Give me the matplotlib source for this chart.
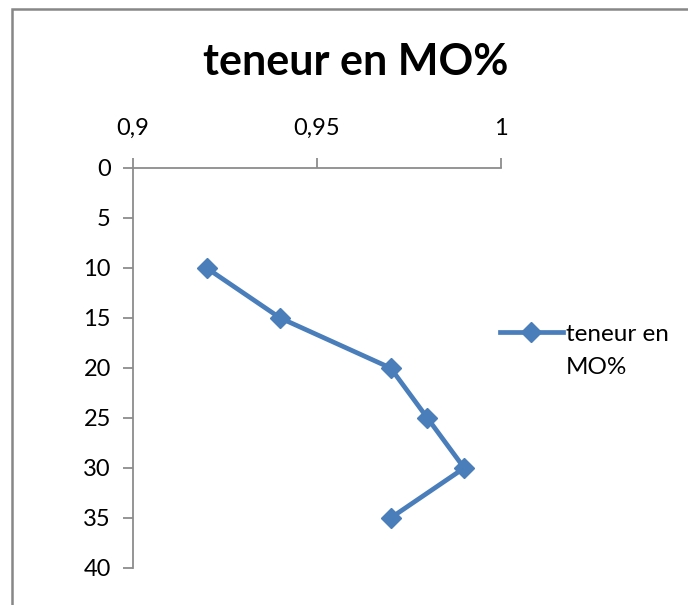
import matplotlib
matplotlib.use("Agg")
import matplotlib.pyplot as plt
from matplotlib.patches import Rectangle
from matplotlib.ticker import FuncFormatter

# data
teneur = [0.92, 0.94, 0.97, 0.98, 0.99, 0.97]
profondeur = [10, 15, 20, 25, 30, 35]
x_ticks = [0.9, 0.95, 1.0]
y_ticks = [0, 5, 10, 15, 20, 25, 30, 35, 40]
serie = "teneur en MO%"

plt.rcParams['font.family'] = ['Lato', 'DejaVu Sans']

fig = plt.figure(figsize=(6.88, 6.05), dpi=100)
ax = fig.add_axes([133/688, 1-568/605, 368/688, 400/605])

blue = '#4A7EBB'
line, = ax.plot(teneur, profondeur, color=blue, lw=3.4, marker='D', ms=10.5,
                markeredgecolor=blue, markerfacecolor=blue)

ax.set_xlim(0.9, 1.0)
ax.set_ylim(40, 0)
ax.set_xticks(x_ticks)
ax.set_yticks(y_ticks)
ax.xaxis.tick_top()
ax.xaxis.set_major_formatter(FuncFormatter(lambda v, p: ('%g' % v).replace('.', ',')))

grey = '#8C8C8C'
for s in ['right', 'bottom']:
    ax.spines[s].set_visible(False)
for s in ['top', 'left']:
    ax.spines[s].set_color(grey)
    ax.spines[s].set_linewidth(1.3)
ax.tick_params(axis='both', direction='out', length=7, width=1.3, color=grey,
               labelsize=17, pad=9)
ax.tick_params(axis='x', pad=14)

fig.text(356/688, 1-62/605, serie, ha='center', va='center', fontsize=31,
         fontweight='bold')

# legende : la ligne est alignee sur la premiere ligne du texte (comme Excel)
mots = serie.split(' ')
leg = fig.legend([line], [' '.join(mots[:2])], loc='center left',
                 bbox_to_anchor=(478/688, 1-334/605), frameon=False, fontsize=17.5,
                 handlelength=2.6, handletextpad=0.1)
fig.canvas.draw()
bb = leg.get_texts()[0].get_window_extent().transformed(fig.transFigure.inverted())
fig.text(bb.x0, 1-368/605, mots[2], ha='left', va='center', fontsize=17.5)

# cadre du graphique
fig.add_artist(Rectangle((12/688, -0.1), 1.2, 0.1 + 1 - 9/605, transform=fig.transFigure,
                         fill=False, edgecolor='#878787', lw=1.8, clip_on=False))

fig.savefig("out.png", dpi=100)
